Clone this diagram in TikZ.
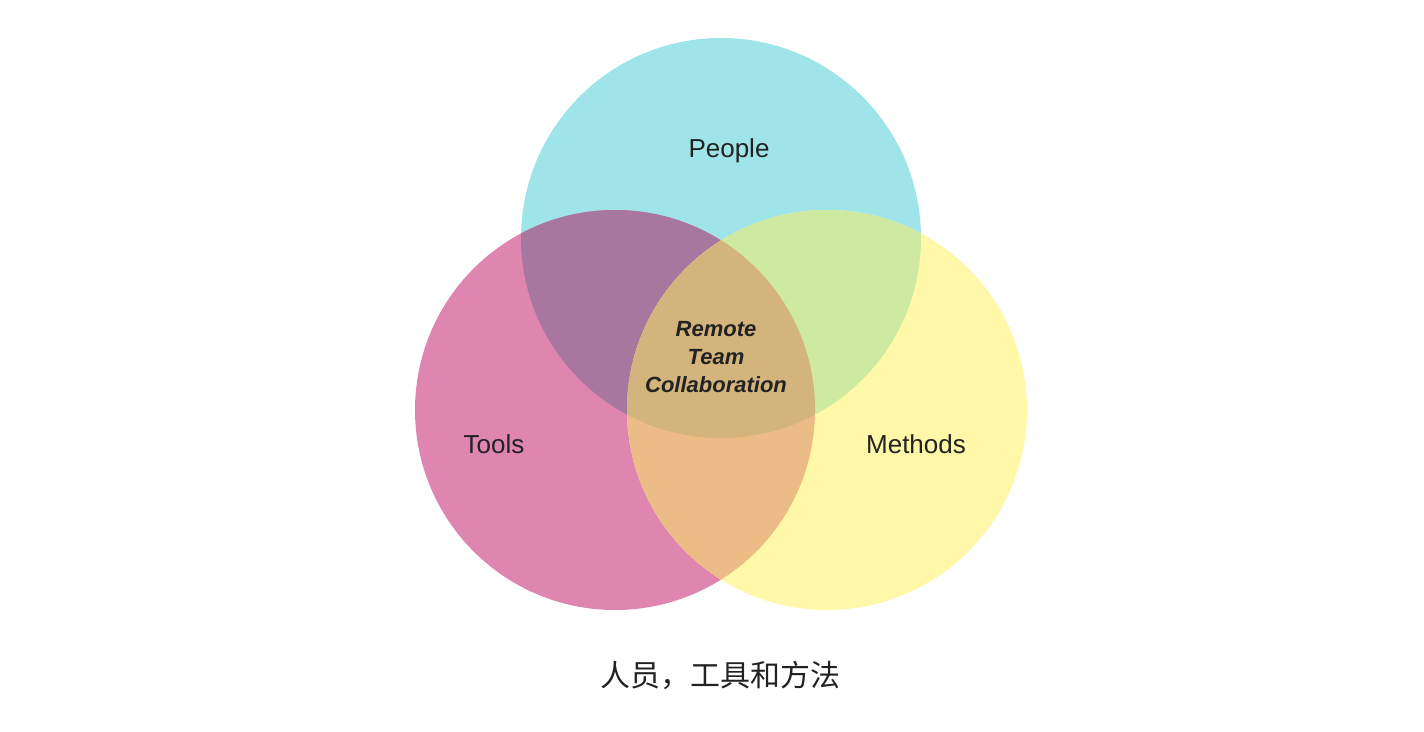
\documentclass[tikz,border=0pt]{standalone}
\usepackage{fontspec}
\setmainfont{Liberation Sans}
\newfontfamily\cjk{Noto Sans CJK SC}
\definecolor{cP}{HTML}{9FE4E8}
\definecolor{cT}{HTML}{DE86B0}
\definecolor{cM}{HTML}{FFF8A8}
\definecolor{cPT}{HTML}{A877A0}
\definecolor{cPM}{HTML}{CDEAA0}
\definecolor{cTM}{HTML}{ECBC86}
\definecolor{cAll}{HTML}{D2B47C}
\definecolor{txt}{HTML}{222222}
\tikzset{lab/.style={text=txt,font=\fontsize{13}{15}\selectfont}}
\begin{document}
\begin{tikzpicture}[x=0.5pt,y=-0.5pt]
\useasboundingbox (0,0) rectangle (1424,732);
\coordinate (P) at (721,238);
\coordinate (T) at (615,410);
\coordinate (M) at (827,410);
\fill[cP] (P) circle (200);
\fill[cT] (T) circle (200);
\fill[cM] (M) circle (200);
\begin{scope}\clip (P) circle (200); \fill[cPT] (T) circle (200); \end{scope}
\begin{scope}\clip (P) circle (200); \fill[cPM] (M) circle (200); \end{scope}
\begin{scope}\clip (T) circle (200); \fill[cTM] (M) circle (200); \end{scope}
\begin{scope}\clip (P) circle (200); \clip (T) circle (200); \fill[cAll] (M) circle (200); \end{scope}
\node[lab] (lp) at (729,151) {People};
\node[lab] (lt) at (494,444) {Tools};
\node[lab] (lm) at (916,444) {Methods};
\node[lab,align=center,font=\fontsize{11}{14}\selectfont\bfseries\itshape] (lc) at (716,357) {Remote\\Team\\Collaboration};
\node[text=txt,font=\cjk\fontsize{15}{18}\selectfont] (cap) at (720,675) {人员，工具和方法};
\end{tikzpicture}
\end{document}
